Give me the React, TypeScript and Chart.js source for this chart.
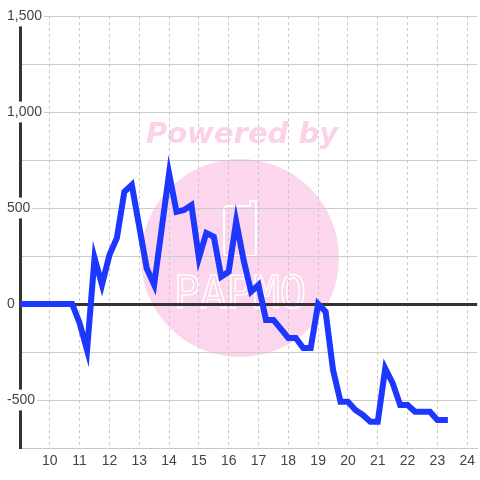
import { useEffect, useRef } from 'react';
import { Chart, registerables } from 'chart.js';

Chart.register(...registerables);

const times = [
  '9:00', '9:15', '9:30', '9:45', '10:00', '10:15', '10:30', '10:45',
  '11:00', '11:15', '11:30', '11:45', '12:00', '12:15', '12:30', '12:45',
  '13:00', '13:15', '13:30', '13:45', '14:00', '14:15', '14:30', '14:45',
  '15:00', '15:15', '15:30', '15:45', '16:00', '16:15', '16:30', '16:45',
  '17:00', '17:15', '17:30', '17:45', '18:00', '18:15', '18:30', '18:45',
  '19:00', '19:15', '19:30', '19:45', '20:00', '20:15', '20:30', '20:45',
  '21:00', '21:15', '21:30', '21:45', '22:00', '22:15', '22:30', '22:45',
  '23:00', '23:15',
];

const values = [
  0, 0, 0, 0, 0, 0, 0, 0,
  -100, -240, 240, 100, 255, 344, 585, 620,
  403, 186, 100, 390, 680, 480, 490, 515,
  240, 370, 350, 142, 168, 429, 229, 64,
  99, -83, -83, -130, -177, -177, -229, -229,
  0, -40, -344, -509, -509, -552, -578, -613,
  -613, -335, -412, -526, -526, -561, -561, -561,
  -604, -604,
];

const xMin = 9;
const xMax = 24 + 1 / 3;
const yMin = -750;
const yMax = 1500;
const yStep = 250;
const yLabelStep = 500;

const toHours = (t: string) => {
  const [h, m] = t.split(':').map(Number);
  return h + m / 60;
};

const watermark = {
  id: 'watermark',
  beforeDraw(chart: any) {
    const { ctx } = chart;
    ctx.save();
    ctx.fillStyle = 'rgb(252,214,236)';
    ctx.beginPath();
    ctx.arc(240, 258, 99, 0, Math.PI * 2);
    ctx.fill();

    ctx.fillStyle = 'rgb(252,210,233)';
    ctx.font = 'italic bold 29px "DejaVu Sans"';
    ctx.textAlign = 'center';
    ctx.textBaseline = 'alphabetic';
    ctx.fillText('Powered by', 242, 143);

    ctx.strokeStyle = '#ffffff';
    ctx.lineWidth = 2;
    ctx.beginPath();
    ctx.moveTo(228, 206);
    ctx.lineTo(250, 206);
    ctx.lineTo(250, 201);
    ctx.lineTo(256, 201);
    ctx.lineTo(256, 253);
    ctx.quadraticCurveTo(256, 256, 253, 256);
    ctx.lineTo(227, 256);
    ctx.quadraticCurveTo(224, 256, 224, 253);
    ctx.lineTo(224, 209);
    ctx.quadraticCurveTo(224, 206, 228, 206);
    ctx.stroke();

    ctx.lineWidth = 1.4;
    ctx.font = '44px "DejaVu Sans Mono"';
    ctx.strokeText('PAPMO', 240, 308);
    ctx.restore();
  },
};

export default function App() {
  const ref = useRef<HTMLCanvasElement | null>(null);

  useEffect(() => {
    document.body.style.margin = '0';
    if (!ref.current) return;
    const data = times.map((t, i) => ({ x: toHours(t), y: values[i] }));
    const chart = new Chart(ref.current, {
      type: 'line',
      data: {
        datasets: [
          {
            data,
            borderColor: 'rgb(30,55,255)',
            borderWidth: 6,
            pointRadius: 0,
            pointHoverRadius: 0,
            tension: 0,
            borderCapStyle: 'square',
            borderJoinStyle: 'miter',
            fill: false,
          },
        ],
      },
      options: {
        animation: false,
        responsive: false,
        events: [],
        layout: { padding: { left: 7, top: 16, right: 0, bottom: 0 } },
        plugins: {
          legend: { display: false },
          tooltip: { enabled: false },
        },
        scales: {
          x: {
            type: 'linear',
            min: xMin,
            max: xMax,
            afterFit: (s: any) => {
              s.height = 32;
            },
            border: { color: '#c8c8c8', width: 1, dash: [3, 3] },
            grid: { color: '#c8c8c8', lineWidth: 1, drawTicks: false },
            ticks: {
              stepSize: 1,
              includeBounds: false,
              autoSkip: false,
              maxRotation: 0,
              padding: 5,
              color: '#444',
              font: { size: 14, family: '"Liberation Sans", Arial, sans-serif' },
              callback: (v: any) => (Number(v) === xMin ? '' : String(v)),
            },
          },
          y: {
            min: yMin,
            max: yMax,
            afterFit: (s: any) => {
              s.width = 13;
            },
            border: { color: '#333', width: 3 },
            grid: {
              color: (c: any) => (c.tick && c.tick.value === 0 ? '#333' : '#cccccc'),
              lineWidth: (c: any) => (c.tick && c.tick.value === 0 ? 3 : 1),
              drawTicks: false,
            },
            ticks: {
              stepSize: yStep,
              mirror: true,
              crossAlign: 'near',
              padding: -13,
              color: '#444',
              font: { size: 14, family: '"Liberation Sans", Arial, sans-serif' },
              showLabelBackdrop: true,
              backdropColor: '#ffffff',
              backdropPadding: 2,
              z: 1,
              callback: (v: any) =>
                Number(v) % yLabelStep === 0 ? Number(v).toLocaleString('en-US') : '',
            },
          },
        },
      },
      plugins: [watermark],
    } as any);
    return () => chart.destroy();
  }, []);

  return (
    <div style={{ width: 480, height: 480 }}>
      <canvas ref={ref} width={480} height={480} style={{ width: 480, height: 480, display: 'block' }} />
    </div>
  );
}
